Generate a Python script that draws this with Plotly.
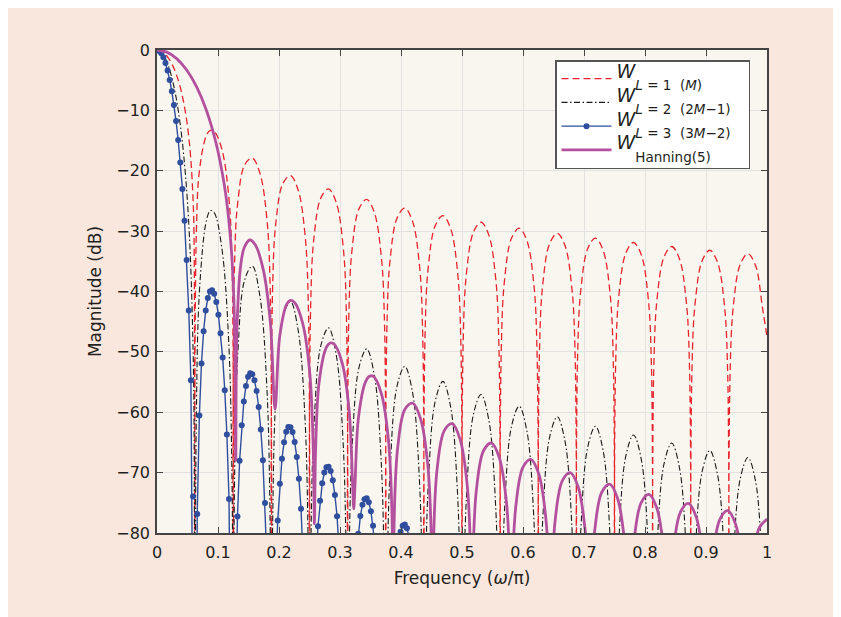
import plotly.graph_objects as go

# ---------------- data ----------------
# Frequency samples (omega/pi) shared by the W_L=1 and W_L=2 curves
freq_L12 = [
    0, 0.00625, 0.0125, 0.01875, 0.025, 0.03125, 0.0375, 0.04375, 0.05, 0.055, 0.05875, 0.060625, 0.0625,
    0.064375, 0.07, 0.08125, 0.0875, 0.09375, 0.10625, 0.1175, 0.123125, 0.125,
    0.126875, 0.1325, 0.14375, 0.15625, 0.16875, 0.18, 0.185625, 0.1875,
    0.189375, 0.195, 0.20625, 0.21875, 0.23125, 0.2425, 0.248125, 0.25,
    0.251875, 0.2575, 0.26875, 0.28125, 0.29375, 0.305, 0.310625, 0.3125,
    0.314375, 0.32, 0.33125, 0.34375, 0.35625, 0.3675, 0.373125, 0.375,
    0.376875, 0.3825, 0.39375, 0.40625, 0.41875, 0.43, 0.435625, 0.4375,
    0.439375, 0.445, 0.45625, 0.46875, 0.48125, 0.4925, 0.498125, 0.5,
    0.501875, 0.5075, 0.51875, 0.53125, 0.54375, 0.555, 0.560625, 0.5625,
    0.564375, 0.57, 0.58125, 0.59375, 0.60625, 0.6175, 0.623125, 0.625,
    0.626875, 0.6325, 0.64375, 0.65625, 0.66875, 0.68, 0.685625, 0.6875,
    0.689375, 0.695, 0.70625, 0.71875, 0.73125, 0.7425, 0.748125, 0.75,
    0.751875, 0.7575, 0.76875, 0.78125, 0.79375, 0.805, 0.810625, 0.8125,
    0.814375, 0.82, 0.83125, 0.84375, 0.85625, 0.8675, 0.873125, 0.875,
    0.876875, 0.8825, 0.89375, 0.90625, 0.91875, 0.93, 0.935625, 0.9375,
    0.939375, 0.945, 0.95625, 0.96875, 0.98125, 0.9925, 1.0,
]

# W_L=1 (M) magnitude in dB
mag_L1 = [
    0, -0.14, -0.58, -1.33, -2.42, -3.92, -5.94, -8.69, -12.62, -17.51, -23.95, -30.21, -150,
    -30.73, -19.61, -14.06, -13.30, -13.47, -16.39, -24.11, -36.36, -150,
    -36.62, -25.15, -19.02, -17.90, -20.41, -27.81, -39.93, -150,
    -40.10, -28.51, -22.15, -20.82, -23.15, -30.40, -42.45, -150,
    -42.58, -30.92, -24.45, -23.01, -25.23, -32.39, -44.40, -150,
    -44.54, -32.83, -26.27, -24.75, -26.91, -34.03, -46.02, -150,
    -46.10, -34.37, -27.77, -26.20, -28.31, -35.39, -47.36, -150,
    -47.43, -35.68, -29.05, -27.44, -29.52, -36.56, -48.52, -150,
    -48.58, -36.82, -30.17, -28.53, -30.58, -37.60, -49.54, -150,
    -49.60, -37.83, -31.15, -29.50, -31.52, -38.52, -50.46, -150,
    -50.51, -38.73, -32.04, -30.37, -32.37, -39.36, -51.29, -150,
    -51.33, -39.55, -32.85, -31.16, -33.15, -40.12, -52.04, -150,
    -52.08, -40.30, -33.58, -31.88, -33.86, -40.83, -52.74, -150,
    -52.78, -40.99, -34.26, -32.55, -34.52, -41.48, -53.38, -150,
    -53.42, -41.62, -34.89, -33.17, -35.13, -42.08, -53.98, -150,
    -54.02, -42.22, -35.48, -33.75, -35.70, -42.64, -47.5,
]

# W_L=2 (2M-1) magnitude in dB
mag_L2 = [
    0, -0.28, -1.16, -2.66, -4.84, -7.84, -11.88, -17.38, -25.24, -35.02, -47.90, -60.42, -150,
    -61.46, -39.22, -28.12, -26.60, -26.94, -32.78, -48.22, -72.72, -150,
    -73.24, -50.30, -38.04, -35.80, -40.82, -55.62, -79.86, -150,
    -80.20, -57.02, -44.30, -41.64, -46.30, -60.80, -84.90, -150,
    -85.16, -61.84, -48.90, -46.02, -50.46, -64.78, -88.80, -150,
    -89.08, -65.66, -52.54, -49.50, -53.82, -68.06, -92.04, -150,
    -92.20, -68.74, -55.54, -52.40, -56.62, -70.78, -94.72, -150,
    -94.86, -71.36, -58.10, -54.88, -59.04, -73.12, -97.04, -150,
    -97.16, -73.64, -60.34, -57.06, -61.16, -75.20, -99.08, -150,
    -99.20, -75.66, -62.30, -59.00, -63.04, -77.04, -100.92, -150,
    -101.02, -77.46, -64.08, -60.74, -64.74, -78.72, -102.58, -150,
    -102.66, -79.10, -65.70, -62.32, -66.30, -80.24, -104.08, -150,
    -104.16, -80.60, -67.16, -63.76, -67.72, -81.66, -105.48, -150,
    -105.56, -81.98, -68.52, -65.10, -69.04, -82.96, -106.76, -150,
    -106.84, -83.24, -69.78, -66.34, -70.26, -84.16, -107.96, -150,
    -108.04, -84.44, -70.96, -67.50, -71.40, -85.28, -95.0,
]

# W_L=3 (3M-2): sampled points (drawn with dots)
freq_L3 = [
    0, 0.00347, 0.00694, 0.01042, 0.01389, 0.01736, 0.02083, 0.02431, 0.02778, 0.03125,
    0.03472, 0.03819, 0.04167, 0.04514, 0.04861, 0.05208, 0.05556, 0.05903, 0.0625,
    0.06597, 0.06944, 0.07292, 0.07639, 0.07986, 0.08333, 0.08681, 0.09028, 0.09375,
    0.09722, 0.10069, 0.10417, 0.10764, 0.11111, 0.11458, 0.11806, 0.12153, 0.125,
    0.12847, 0.13194, 0.13542, 0.13889, 0.14236, 0.14583, 0.14931, 0.15278, 0.15625,
    0.15972, 0.16319, 0.16667, 0.17014, 0.17361, 0.17708, 0.18056, 0.18403, 0.1875,
    0.19097, 0.19444, 0.19792, 0.20139, 0.20486, 0.20833, 0.21181, 0.21528, 0.21875,
    0.22222, 0.22569, 0.22917, 0.23264, 0.23611, 0.23958, 0.24306, 0.24653, 0.25,
    0.25347, 0.25694, 0.26042, 0.26389, 0.26736, 0.27083, 0.27431, 0.27778, 0.28125,
    0.28472, 0.28819, 0.29167, 0.29514, 0.29861, 0.30208, 0.30556, 0.30903, 0.3125,
    0.31597, 0.31944, 0.32292, 0.32639, 0.32986, 0.33333, 0.33681, 0.34028, 0.34375,
    0.34722, 0.35069, 0.35417, 0.35764, 0.36111, 0.36458, 0.36806, 0.37153, 0.375,
    0.38889, 0.39236, 0.39583, 0.39931, 0.40278, 0.40625, 0.40972, 0.41319, 0.41667,
    0.42014, 0.42361, 0.4375,
]
mag_L3 = [
    0, -0.13, -0.53, -1.20, -2.15, -3.40, -4.95, -6.84, -9.10, -11.77,
    -14.91, -18.62, -23.01, -28.30, -34.80, -43.14, -54.72, -73.96, -150,
    -76.87, -60.55, -51.91, -46.57, -43.15, -41.08, -40.00, -39.79, -40.39,
    -41.74, -43.87, -46.90, -50.92, -56.35, -63.70, -74.35, -92.80, -150,
    -94.22, -77.26, -68.04, -62.15, -58.22, -55.66, -54.14, -53.52, -53.71,
    -54.68, -56.46, -59.13, -62.87, -67.97, -75.03, -85.43, -103.59, -150,
    -104.55, -87.36, -77.93, -71.84, -67.71, -64.95, -63.25, -62.45, -62.47,
    -63.28, -64.91, -67.43, -71.02, -75.98, -82.91, -93.18, -111.21, -150,
    -111.93, -94.62, -85.08, -78.88, -74.65, -71.78, -69.99, -69.10, -69.02,
    -69.74, -71.28, -73.72, -77.22, -82.10, -88.95, -99.14, -117.09, -150,
    -117.70, -100.30, -90.68, -84.42, -80.12, -77.20, -75.34, -74.39, -74.25,
    -74.91, -76.39, -78.78, -82.23, -87.05, -93.85, -103.99, -121.89, -150,
    -88.98, -84.64, -81.68, -79.78, -78.78, -78.60, -79.22, -80.67, -83.01,
    -86.42, -91.21, -150,
]

# W_Hanning(5)
freq_hann = [
    0, 0.01613, 0.03226, 0.04839, 0.06452, 0.08065, 0.09677, 0.10968, 0.11613, 0.12258, 0.12581, 0.12774, 0.12903,
    0.13097, 0.13677, 0.14323, 0.15226, 0.16129, 0.17419, 0.18581, 0.19355,
    0.20129, 0.21290, 0.21935, 0.22581, 0.23871, 0.25032, 0.25613, 0.25806,
    0.26, 0.26581, 0.27742, 0.28387, 0.29032, 0.30323, 0.31484, 0.32065, 0.32258,
    0.32452, 0.33032, 0.34194, 0.34839, 0.35484, 0.36774, 0.37935, 0.38516, 0.38710,
    0.38903, 0.39484, 0.40645, 0.41935, 0.43226, 0.44387, 0.44968, 0.45161,
    0.45355, 0.45935, 0.47097, 0.48387, 0.49677, 0.50839, 0.51419, 0.51613,
    0.51806, 0.52387, 0.53548, 0.54839, 0.56129, 0.57290, 0.57871, 0.58065,
    0.58258, 0.58839, 0.6, 0.61290, 0.62581, 0.63742, 0.64323, 0.64516,
    0.64710, 0.65290, 0.66452, 0.67742, 0.69032, 0.70194, 0.70774, 0.70968,
    0.71161, 0.71742, 0.72903, 0.74194, 0.75484, 0.76645, 0.77226, 0.77419,
    0.77613, 0.78194, 0.79355, 0.80645, 0.81935, 0.83097, 0.83677, 0.83871,
    0.84065, 0.84645, 0.85806, 0.87097, 0.88387, 0.89548, 0.90129, 0.90323,
    0.90516, 0.91097, 0.92258, 0.93548, 0.94839, 0.96, 0.96581, 0.96774,
    0.96968, 0.97548, 0.98710, 1.0,
]
mag_hann = [
    0, -0.35, -1.42, -3.27, -6.02, -9.89, -15.40, -21.92, -26.67, -34.05, -40.81, -49.23, -68.0,
    -46.51, -36.02, -32.67, -31.47, -32.31, -36.38, -45.07, -59.5,
    -47.33, -42.06, -41.48, -41.85, -45.22, -53.36, -65.83, -78.5,
    -66.24, -54.99, -49.31, -48.53, -48.70, -51.71, -59.56, -71.90, -76.0,
    -72.22, -60.84, -54.93, -54.02, -54.07, -56.86, -64.53, -76.78, -150,
    -77.05, -65.59, -59.52, -58.51, -61.15, -68.69, -80.89, -150,
    -80.80, -69.26, -63.05, -61.90, -64.44, -71.90, -84.06, -150,
    -84.19, -72.62, -66.33, -65.10, -67.55, -74.95, -87.07, -150,
    -87.04, -75.44, -69.09, -67.80, -70.19, -77.52, -89.62, -150,
    -89.36, -77.74, -71.34, -70.00, -72.34, -79.62, -91.70, -150,
    -91.37, -79.72, -73.29, -71.90, -74.19, -81.44, -93.50, -150,
    -93.15, -81.49, -75.02, -73.60, -75.86, -83.07, -95.11, -150,
    -94.72, -83.05, -76.55, -75.10, -77.33, -84.51, -96.54, -150,
    -95.99, -84.30, -77.78, -76.30, -78.50, -85.66, -97.67, -150,
    -97.44, -85.74, -79.20, -77.70,
]

x_ticks = [0, 0.1, 0.2, 0.3, 0.4, 0.5, 0.6, 0.7, 0.8, 0.9, 1.0]
x_tick_labels = ["0", "0.1", "0.2", "0.3", "0.4", "0.5", "0.6", "0.7", "0.8", "0.9", "1"]
y_ticks = [0, -10, -20, -30, -40, -50, -60, -70, -80]
y_tick_labels = ["0", "\u221210", "\u221220", "\u221230", "\u221240", "\u221250", "\u221260", "\u221270", "\u221280"]

# Legend labels: large italic W, lowered subscript text
W_PART = "<sup><span style='font-size:19px'><i>W</i></span></sup>"
SUB_OPEN = "<sub><sub><span style='font-size:13.5px'>"
SUB_CLOSE = "\u00a0\u00a0\u00a0</span></sub></sub>"
legend_names = [
    W_PART + SUB_OPEN + "<i>L</i> = 1 \u00a0(<i>M</i>)" + SUB_CLOSE,
    W_PART + SUB_OPEN + "<i>L</i> = 2 \u00a0(2<i>M</i>\u22121)" + SUB_CLOSE,
    W_PART + SUB_OPEN + "<i>L</i> = 3 \u00a0(3<i>M</i>\u22122)" + SUB_CLOSE,
    W_PART + SUB_OPEN + "Hanning(5)" + SUB_CLOSE,
]

FONT = "DejaVu Sans, Liberation Sans, Arial, sans-serif"
TEXT = "#231f20"

# ---------------- figure ----------------
fig = go.Figure()
fig.add_trace(go.Scatter(
    x=freq_L12, y=mag_L1, mode="lines", name=legend_names[0],
    line=dict(color="#e8232b", width=1.3, dash="7px,4px", shape="spline"),
))
fig.add_trace(go.Scatter(
    x=freq_L12, y=mag_L2, mode="lines", name=legend_names[1],
    line=dict(color="#1a1a1a", width=1.1, dash="6px,2.5px,1.5px,2.5px", shape="spline"),
))
fig.add_trace(go.Scatter(
    x=freq_L3, y=mag_L3, mode="lines+markers", name=legend_names[2],
    line=dict(color="#2f4e9e", width=1.4),
    marker=dict(size=6, color="#2f4e9e"),
))
fig.add_trace(go.Scatter(
    x=freq_hann, y=mag_hann, mode="lines", name=legend_names[3],
    line=dict(color="#b4519f", width=2.8, shape="spline"),
))

axis_common = dict(
    ticks="inside", ticklen=6, tickcolor="#444", tickwidth=1,
    showline=True, linecolor="#444", linewidth=1.5, mirror="ticks",
    showgrid=True, gridcolor="#e2e2e0", gridwidth=1, zeroline=False,
    tickfont=dict(family=FONT, size=16, color=TEXT),
)

fig.update_xaxes(
    range=[0, 1], tickmode="array", tickvals=x_ticks, ticktext=x_tick_labels,
    ticklabelstandoff=4,
    title=dict(text="Frequency (<i>\u03c9</i>/\u03c0)", font=dict(family=FONT, size=17, color=TEXT), standoff=11),
    **axis_common,
)
fig.update_yaxes(
    range=[-80, 0], tickmode="array", tickvals=y_ticks, ticktext=y_tick_labels,
    ticklabelstandoff=2,
    title=dict(text="Magnitude (dB)", font=dict(family=FONT, size=17, color=TEXT), standoff=10),
    **axis_common,
)

fig.update_layout(
    width=841, height=617,
    margin=dict(l=149, r=82, t=42, b=92),
    paper_bgcolor="#f9e7de", plot_bgcolor="#f8f6ef",
    font=dict(family=FONT, size=15, color=TEXT),
    showlegend=True,
    legend=dict(
        x=0.6525, y=0.979, xanchor="left", yanchor="top",
        bgcolor="white", bordercolor="#555", borderwidth=1.5,
        font=dict(family=FONT, size=16, color=TEXT),
        itemwidth=50, tracegroupgap=0,
    ),
)

fig.write_html("out.html")
